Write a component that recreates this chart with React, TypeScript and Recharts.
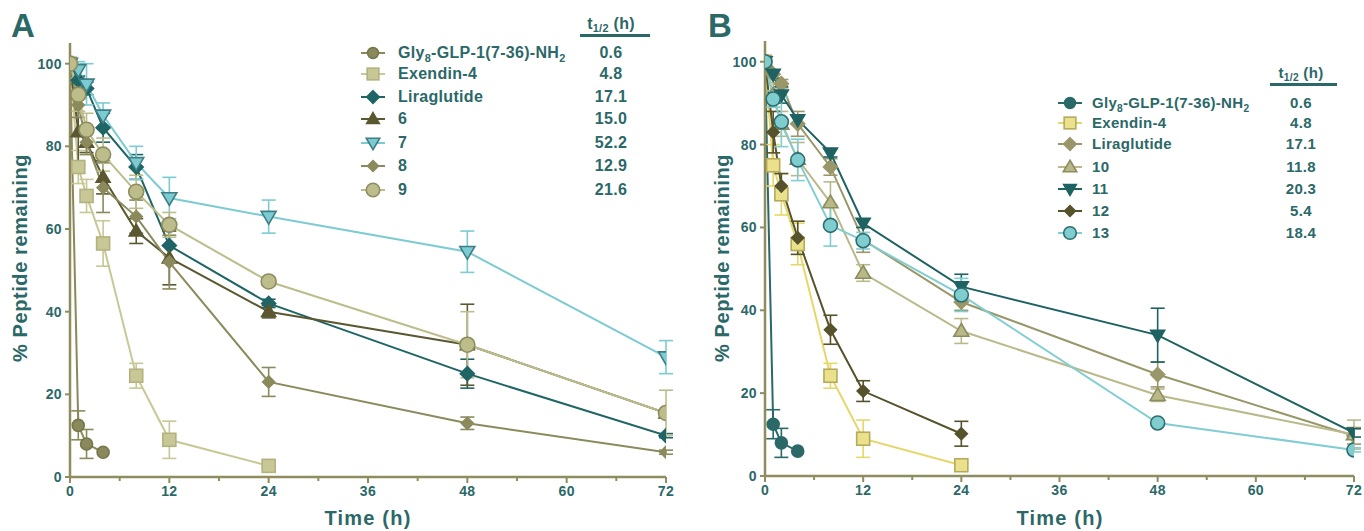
import React from 'react';
import { LineChart, Line, XAxis, YAxis, ErrorBar } from 'recharts';

// ---------- shared ----------
const TIMES = [0, 1, 2, 4, 8, 12, 24, 48, 72];
const X_TICKS = [0, 6, 12, 18, 24, 30, 36, 42, 48, 54, 60, 66, 72];
const Y_TICKS = [0, 20, 40, 60, 80, 100];

// ---------- panel A ----------
const A_NAMES = ['Gly8', 'Exendin-4', 'Liraglutide', '6', '7', '8', '9'];
const A_HALF = ['0.6', '4.8', '17.1', '15.0', '52.2', '12.9', '21.6'];
const A_GLY = [100, 12.5, 8, 6];
const A_GLY_ERR = [0, 3.5, 3.5, 0];
const A_EX = [100, 75, 68, 56.5, 24.5, 9, 2.7];
const A_EX_ERR = [0, 4, 4, 5.5, 3, 4.5, 0.5];
const A_LIRA = [100, 96, 94, 84.5, 75, 56, 42, 25, 10];
const A_LIRA_ERR = [0, 1, 1.5, 3.5, 3, 4, 1, 3.5, 0.5];
const A_6 = [100, 83.5, 81, 72.5, 59.5, 53, 40, 32, 15.5];
const A_6_ERR = [0, 8, 2.5, 4, 3, 6.5, 1.5, 9.8, 0];
const A_7 = [100, 98.5, 95, 87.5, 76, 67.5, 63, 54.5, 29];
const A_7_ERR = [0, 2, 5, 3, 4, 5, 4, 5, 4];
const A_8 = [100, 90, 81, 70, 63, 52, 23, 13, 6];
const A_8_ERR = [0, 3, 3, 6, 4, 6.5, 3.5, 1.5, 0.5];
const A_9 = [100, 92.5, 84, 78, 69, 61, 47.3, 32, 15.5];
const A_9_ERR = [0, 4, 4, 4, 4, 3, 1, 8, 5.5];

// ---------- panel B ----------
const B_NAMES = ['Gly8', 'Exendin-4', 'Liraglutide', '10', '11', '12', '13'];
const B_HALF = ['0.6', '4.8', '17.1', '11.8', '20.3', '5.4', '18.4'];
const B_GLY = [100, 12.5, 8, 6];
const B_GLY_ERR = [0, 3.5, 3.5, 0];
const B_EX = [100, 75, 68, 56, 24.2, 9, 2.6];
const B_EX_ERR = [0, 5, 5, 5, 3, 4.5, 0.5];
const B_LIRA = [100, 97, 94.7, 85, 74.6, 57, 42, 24.5, 9.7];
const B_LIRA_ERR = [0, 1, 1, 3, 2, 3, 2, 3, 2];
const B_10 = [100, 92, 85, 76.5, 66, 49, 35, 19.5, 10];
const B_10_ERR = [0, 3, 3, 4, 5, 2, 3, 1.5, 3.5];
const B_11 = [100, 97, 92, 86, 78, 61, 45.7, 34, 10.4];
const B_11_ERR = [0, 1, 2, 1, 1, 1, 3, 6.5, 1];
const B_12 = [100, 83, 70, 57.5, 35.3, 20.5, 10.2];
const B_12_ERR = [0, 5, 3, 4, 3.5, 2.5, 3];
const B_13 = [100, 91, 85.5, 76.3, 60.5, 56.8, 43.7, 12.8, 6.3];
const B_13_ERR = [0, 2, 6, 5, 5, 2, 4, 0.5, 0.5];

// ---------- styles ----------
const TEXT = '#2b6868';
const AXIS = '#8f8c5e';
const FONT = '"Liberation Sans", Arial, Helvetica, sans-serif';

type Shape = 'circle' | 'square' | 'diamond' | 'triUp' | 'triDown';
interface Series {
  id: string;
  values: number[];
  errors: number[];
  shape: Shape;
  line: string;
  fill: string;
  stroke: string;
  r: number;
}

const build = (values: number[], errors: number[]) =>
  values.map((v, i) => ({ t: TIMES[i], y: v, e: errors[i] }));

const A_SERIES: Series[] = [
  { id: 'a0', values: A_GLY, errors: A_GLY_ERR, shape: 'circle', line: '#8a895c', fill: '#8a895c', stroke: '#77764c', r: 6 },
  { id: 'a1', values: A_EX, errors: A_EX_ERR, shape: 'square', line: '#c8c796', fill: '#c8c796', stroke: '#b3b27f', r: 6.5 },
  { id: 'a2', values: A_LIRA, errors: A_LIRA_ERR, shape: 'diamond', line: '#1f6565', fill: '#1f6565', stroke: '#1f6565', r: 7 },
  { id: 'a3', values: A_6, errors: A_6_ERR, shape: 'triUp', line: '#5b5731', fill: '#5b5731', stroke: '#5b5731', r: 7 },
  { id: 'a4', values: A_7, errors: A_7_ERR, shape: 'triDown', line: '#7ccbd2', fill: '#7ccbd2', stroke: '#3e7f86', r: 7.5 },
  { id: 'a5', values: A_8, errors: A_8_ERR, shape: 'diamond', line: '#8b8a5c', fill: '#8b8a5c', stroke: '#8b8a5c', r: 6 },
  { id: 'a6', values: A_9, errors: A_9_ERR, shape: 'circle', line: '#bdbd8c', fill: '#bdbd8c', stroke: '#8e8d5f', r: 7.5 },
];

const B_SERIES: Series[] = [
  { id: 'b0', values: B_GLY, errors: B_GLY_ERR, shape: 'circle', line: '#2b6969', fill: '#2b6969', stroke: '#2b6969', r: 6 },
  { id: 'b1', values: B_EX, errors: B_EX_ERR, shape: 'square', line: '#e6d76a', fill: '#ebe08c', stroke: '#b4ab5c', r: 6.5 },
  { id: 'b2', values: B_LIRA, errors: B_LIRA_ERR, shape: 'diamond', line: '#99976a', fill: '#99976a', stroke: '#99976a', r: 7 },
  { id: 'b3', values: B_10, errors: B_10_ERR, shape: 'triUp', line: '#bab98b', fill: '#b9b888', stroke: '#8d8c5f', r: 7.5 },
  { id: 'b4', values: B_11, errors: B_11_ERR, shape: 'triDown', line: '#1e6262', fill: '#1e6262', stroke: '#1e6262', r: 7 },
  { id: 'b5', values: B_12, errors: B_12_ERR, shape: 'diamond', line: '#56522c', fill: '#56522c', stroke: '#56522c', r: 6 },
  { id: 'b6', values: B_13, errors: B_13_ERR, shape: 'circle', line: '#80cdd2', fill: '#80cdd0', stroke: '#2d6e70', r: 7 },
];

function MarkerShape({ shape, cx, cy, r, fill, stroke }: { shape: Shape; cx: number; cy: number; r: number; fill: string; stroke: string }) {
  const sw = 1.6;
  switch (shape) {
    case 'circle':
      return <circle cx={cx} cy={cy} r={r} fill={fill} stroke={stroke} strokeWidth={sw} />;
    case 'square':
      return <rect x={cx - r} y={cy - r} width={2 * r} height={2 * r} fill={fill} stroke={stroke} strokeWidth={sw} />;
    case 'diamond':
      return <polygon points={`${cx},${cy - r} ${cx + r},${cy} ${cx},${cy + r} ${cx - r},${cy}`} fill={fill} stroke={stroke} strokeWidth={sw} />;
    case 'triUp':
      return <polygon points={`${cx},${cy - r} ${cx + r},${cy + r * 0.7} ${cx - r},${cy + r * 0.7}`} fill={fill} stroke={stroke} strokeWidth={sw} />;
    case 'triDown':
      return <polygon points={`${cx - r},${cy - r * 0.7} ${cx + r},${cy - r * 0.7} ${cx},${cy + r}`} fill={fill} stroke={stroke} strokeWidth={sw} />;
  }
  return null;
}

const XTick = (props: any) => {
  const { x, y, payload } = props;
  const axisY = y - 5;
  const major = payload.value % 12 === 0;
  return (
    <g>
      <line x1={x} x2={x} y1={axisY} y2={axisY + (major ? 6 : 4)} stroke={AXIS} strokeWidth={2} />
      {major && (
        <text x={x} y={axisY + 9} dy="0.71em" textAnchor="middle" fill={TEXT} fontSize={14} fontWeight={700} fontFamily={FONT} letterSpacing={0.4}>
          {payload.value}
        </text>
      )}
    </g>
  );
};

function Panel({ series, width, margin }: { series: Series[]; width: number; margin: any }) {
  return (
    <LineChart width={width} height={531} margin={margin}>
      <XAxis
        type="number"
        dataKey="t"
        domain={[0, 72]}
        ticks={X_TICKS}
        interval={0}
        allowDataOverflow
        stroke={AXIS}
        strokeWidth={2.5}
        tickLine={false}
        tickSize={5}
        tickMargin={0}
        height={30}
        tick={<XTick />}
      />
      <YAxis
        type="number"
        domain={[0, 105]}
        ticks={Y_TICKS}
        interval={0}
        allowDataOverflow
        width={50}
        stroke={AXIS}
        strokeWidth={2.5}
        tickSize={5}
        tickMargin={3}
        tickLine={{ stroke: AXIS, strokeWidth: 2 }}
        tick={{ fill: TEXT, fontSize: 14, fontWeight: 700, fontFamily: FONT, letterSpacing: 0.4 }}
      />
      {series.map((s) => (
        <Line
          key={s.id}
          data={build(s.values, s.errors)}
          dataKey="y"
          type="linear"
          stroke={s.line}
          strokeWidth={2}
          isAnimationActive={false}
          activeDot={false}
          dot={(p: any) => (
            <MarkerShape key={`${s.id}-${p.index}`} shape={s.shape} cx={p.cx} cy={p.cy} r={s.r} fill={s.fill} stroke={s.stroke} />
          )}
        >
          <ErrorBar dataKey="e" direction="y" width={7} stroke={s.line} strokeWidth={1.6} />
        </Line>
      ))}
    </LineChart>
  );
}

function LegendMarker({ s }: { s: Series }) {
  return (
    <svg width={26} height={18} style={{ display: 'block' }}>
      <line x1={1} x2={25} y1={9} y2={9} stroke={s.line} strokeWidth={2} />
      <MarkerShape shape={s.shape} cx={13} cy={9} r={s.r * 0.9} fill={s.fill} stroke={s.stroke} />
    </svg>
  );
}

const GlyLabel = () => (
  <span>
    Gly<span style={{ fontSize: '0.68em', position: 'relative', top: '0.35em' }}>8</span>-GLP-1(7-36)-NH
    <span style={{ fontSize: '0.68em', position: 'relative', top: '0.35em' }}>2</span>
  </span>
);

function Legend({
  series, names, halves, markerX, labelX, valueX, rowYs, headerY, lineY, lineX1, lineX2, fontSize,
}: {
  series: Series[]; names: string[]; halves: string[]; markerX: number; labelX: number; valueX: number;
  rowYs: number[]; headerY: number; lineY: number; lineX1: number; lineX2: number; fontSize: number;
}) {
  const txt: React.CSSProperties = { position: 'absolute', color: TEXT, fontFamily: FONT, fontWeight: 700, fontSize, lineHeight: '18px', whiteSpace: 'nowrap', letterSpacing: 0.3 };
  return (
    <>
      <div style={{ ...txt, left: valueX - 60, width: 120, textAlign: 'center', top: headerY - 9 }}>
        t<span style={{ fontSize: '0.68em', position: 'relative', top: '0.3em' }}>1/2</span> (h)
      </div>
      <div style={{ position: 'absolute', left: lineX1, top: lineY - 1, width: lineX2 - lineX1, height: 2.5, background: TEXT }} />
      {series.map((s, i) => (
        <React.Fragment key={s.id}>
          <div style={{ position: 'absolute', left: markerX - 13, top: rowYs[i] - 9 }}>
            <LegendMarker s={s} />
          </div>
          <div style={{ ...txt, left: labelX, top: rowYs[i] - 9 }}>{i === 0 ? <GlyLabel /> : names[i]}</div>
          <div style={{ ...txt, left: valueX - 40, width: 80, textAlign: 'center', top: rowYs[i] - 9 }}>{halves[i]}</div>
        </React.Fragment>
      ))}
    </>
  );
}

export default function App() {
  const title: React.CSSProperties = { position: 'absolute', color: TEXT, fontFamily: FONT, fontWeight: 700, whiteSpace: 'nowrap' };
  return (
    <div style={{ position: 'absolute', left: 0, top: 0, width: 1364, height: 531, background: '#fff', overflow: 'hidden' }}>
      <div style={{ position: 'absolute', left: 0, top: 0 }}>
        <Panel series={A_SERIES} width={690} margin={{ top: 43, right: 24, bottom: 24, left: 20 }} />
      </div>
      <div style={{ position: 'absolute', left: 700, top: 0 }}>
        <Panel series={B_SERIES} width={664} margin={{ top: 41, right: 10, bottom: 25, left: 15 }} />
      </div>

      {/* panel letters */}
      <div style={{ ...title, left: 11, top: 8, fontSize: 33, lineHeight: '36px' }}>A</div>
      <div style={{ ...title, left: 708, top: 8, fontSize: 33, lineHeight: '36px' }}>B</div>

      {/* axis titles */}
      <div style={{ ...title, left: 368 - 100, width: 200, textAlign: 'center', top: 505, fontSize: 20, lineHeight: '26px', letterSpacing: 1.2 }}>Time (h)</div>
      <div style={{ ...title, left: 1060 - 100, width: 200, textAlign: 'center', top: 505, fontSize: 20, lineHeight: '26px', letterSpacing: 1.2 }}>Time (h)</div>
      <div style={{ ...title, left: 20 - 120, top: 258 - 13, width: 240, textAlign: 'center', fontSize: 20, lineHeight: '26px', letterSpacing: 0.6, transform: 'rotate(-90deg)' }}>% Peptide remaining</div>
      <div style={{ ...title, left: 722 - 120, top: 258 - 13, width: 240, textAlign: 'center', fontSize: 20, lineHeight: '26px', letterSpacing: 0.6, transform: 'rotate(-90deg)' }}>% Peptide remaining</div>

      <Legend
        series={A_SERIES} names={A_NAMES} halves={A_HALF}
        markerX={373} labelX={398} valueX={611}
        rowYs={[53, 74, 97, 119, 143, 166, 190]}
        headerY={24} lineY={35} lineX1={580} lineX2={650} fontSize={16}
      />
      <Legend
        series={B_SERIES} names={B_NAMES} halves={B_HALF}
        markerX={1070} labelX={1092} valueX={1301}
        rowYs={[103, 123, 144, 167, 189, 211, 233]}
        headerY={73} lineY={84} lineX1={1270} lineX2={1337} fontSize={15}
      />
    </div>
  );
}
